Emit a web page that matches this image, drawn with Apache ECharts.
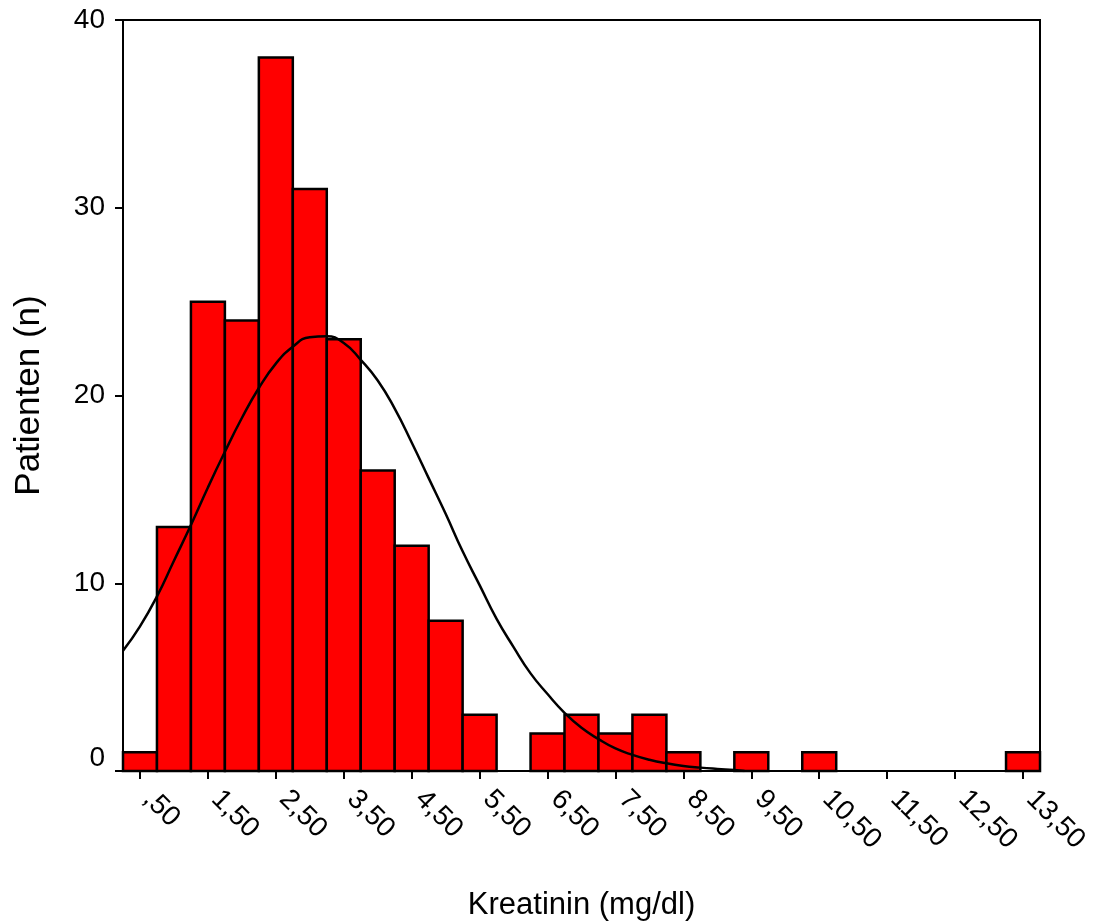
<!DOCTYPE html>
<html>
<head>
<meta charset="utf-8">
<script src="https://cdn.jsdelivr.net/npm/echarts@6/dist/echarts.min.js"></script>
<style>
  html, body { margin: 0; padding: 0; background: #fff; }
  #chart { width: 1095px; height: 924px; }
</style>
</head>
<body>
<div id="chart"></div>
<script>
// Histogram bins (centers, mg/dl) and counts (patients)
const binCenters = [0.5, 1.0, 1.5, 2.0, 2.5, 3.0, 3.5, 4.0, 4.5, 5.0, 5.5, 6.0, 6.5, 7.0, 7.5, 8.0, 8.5, 9.0, 9.5, 10.0, 10.5, 11.0, 11.5, 12.0, 12.5, 13.0, 13.5];
const binCounts  = [1, 13, 25, 24, 38, 31, 23, 16, 12, 8, 3, 0, 2, 3, 2, 3, 1, 0, 1, 0, 1, 0, 0, 0, 0, 0, 1];
const binWidth = 0.5;

// Normal curve
const curveX = [0.25, 0.5, 0.75, 1.0, 1.25, 1.5, 1.75, 2.0, 2.25, 2.5, 2.75, 3.0, 3.25, 3.5, 3.75, 4.0, 4.25, 4.5, 4.75, 5.0, 5.25, 5.5, 5.75, 6.0, 6.25, 6.5, 6.75, 7.0, 7.25, 7.5, 7.75, 8.0, 8.25, 8.5, 8.75, 9.0, 9.25, 9.4];
const curveY = [6.4, 7.7, 9.3, 11.2, 13.1, 15.1, 17.0, 18.8, 20.4, 21.7, 22.6, 23.1, 23.15, 22.8, 21.9, 20.8, 19.3, 17.5, 15.6, 13.7, 11.7, 9.9, 8.1, 6.6, 5.2, 4.1, 3.1, 2.3, 1.7, 1.2, 0.86, 0.6, 0.41, 0.27, 0.18, 0.11, 0.05, 0.0];

// Axis ticks
const xTickValues = [0.5, 1.5, 2.5, 3.5, 4.5, 5.5, 6.5, 7.5, 8.5, 9.5, 10.5, 11.5, 12.5, 13.5];
const xTickLabels = [',50', '1,50', '2,50', '3,50', '4,50', '5,50', '6,50', '7,50', '8,50', '9,50', '10,50', '11,50', '12,50', '13,50'];
const yTicks = [0, 10, 20, 30, 40];

const FONT = '"Liberation Sans", Arial, sans-serif';

const chart = echarts.init(document.getElementById('chart'), null, { renderer: 'canvas' });

const histData = binCenters.map((c, i) => [c, binCounts[i]]);
const curveData = curveX.map((x, i) => [x, curveY[i]]);

chart.setOption({
  animation: false,
  backgroundColor: '#ffffff',
  grid: {
    left: 123, right: 55, top: 20, bottom: 153,
    show: true, borderColor: '#000', borderWidth: 2,
    outerBoundsMode: 'none'
  },
  xAxis: {
    type: 'value',
    min: 0.25, max: 13.75,
    name: 'Kreatinin (mg/dl)',
    nameLocation: 'middle',
    nameGap: 119,
    nameTextStyle: { fontFamily: FONT, fontSize: 31, color: '#000' },
    axisLine: { show: true, onZero: false, lineStyle: { color: '#000', width: 2 } },
    axisTick: { show: true, inside: false, length: 8, lineStyle: { color: '#000', width: 2 }, customValues: xTickValues },
    axisLabel: {
      show: true, rotate: -45, margin: 16,
      padding: [0, 0, 0, 11],
      fontFamily: FONT, fontSize: 28, color: '#000',
      customValues: xTickValues,
      formatter: function (v) {
        const i = xTickValues.indexOf(v);
        return i >= 0 ? xTickLabels[i] : '';
      }
    },
    splitLine: { show: false }
  },
  yAxis: {
    type: 'value',
    min: yTicks[0], max: yTicks[yTicks.length - 1], interval: 10,
    name: 'Patienten (n)',
    nameLocation: 'middle',
    nameGap: 76,
    nameRotate: 90,
    nameTextStyle: { fontFamily: FONT, fontSize: 35, color: '#000' },
    axisLine: { show: true, lineStyle: { color: '#000', width: 2 } },
    axisTick: { show: true, inside: false, length: 8, lineStyle: { color: '#000', width: 2 } },
    axisLabel: {
      margin: 18, fontFamily: FONT, fontSize: 28, color: '#000',
      formatter: function (v) { return v === 0 ? '{z|0}' : String(v); },
      rich: { z: { fontFamily: FONT, fontSize: 28, color: '#000', padding: [0, 0, 26, 0] } }
    },
    splitLine: { show: false }
  },
  series: [
    {
      type: 'custom',
      name: 'hist',
      data: histData,
      encode: { x: 0, y: 1 },
      renderItem: function (params, api) {
        const c = api.value(0), n = api.value(1);
        if (!n) return null;
        const p0 = api.coord([c - binWidth / 2, n]);
        const p1 = api.coord([c + binWidth / 2, 0]);
        return {
          type: 'rect',
          shape: { x: p0[0], y: p0[1], width: p1[0] - p0[0], height: p1[1] - p0[1] },
          style: { fill: '#ff0000', stroke: '#000', lineWidth: 2.5 }
        };
      },
      z: 2
    },
    {
      type: 'line',
      name: 'normal',
      data: curveData,
      smooth: true,
      showSymbol: false,
      symbol: 'none',
      lineStyle: { color: '#000', width: 2.5 },
      z: 3
    }
  ]
});
</script>
</body>
</html>
